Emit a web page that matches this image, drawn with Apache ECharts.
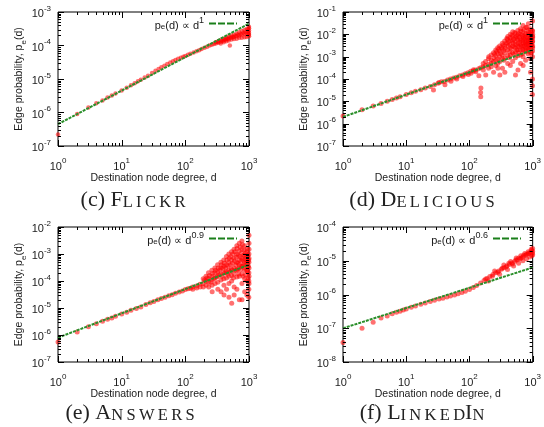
<!DOCTYPE html>
<html>
<head>
<meta charset="utf-8">
<script src="https://cdn.jsdelivr.net/npm/echarts@6/dist/echarts.min.js"></script>
<style>
  html, body { margin: 0; padding: 0; background: #fff; }
  #chart { width: 544px; height: 427px; }
</style>
</head>
<body>
<div id="chart"></div>
<script>
// degree (x) is shared by all four panels
const degreeTicks = [1, 10, 100, 1000];

// (c) Flickr: [degree, edge probability]
const flickrPoints = [
  [1, 2.2e-7], [2, 9e-7], [3, 1.4e-6], [4, 1.9e-6], [5, 2.3e-6], [6, 2.8e-6], [7, 3.2e-6], [8, 3.7e-6],
  [10, 4.5e-6], [12, 5.5e-6], [14, 6.5e-6], [16, 7.5e-6], [18, 8.5e-6], [20, 9.5e-6], [23, 1.1e-5],
  [26, 1.25e-5], [30, 1.5e-5], [34, 1.75e-5], [38, 2e-5], [42, 2.25e-5], [47, 2.5e-5], [52, 2.8e-5],
  [58, 3.1e-5], [64, 3.4e-5], [70, 3.7e-5], [77, 4e-5], [85, 4.3e-5], [93, 4.6e-5], [100, 4.9e-5],
  [110, 5.3e-5], [120, 5.7e-5], [135, 6.2e-5], [150, 6.7e-5], [165, 7.2e-5], [180, 7.8e-5],
  [200, 8.5e-5], [220, 9.2e-5], [240, 1e-4], [260, 1.05e-4], [280, 1.1e-4],
  [300, 1.15e-4], [300, 1.25e-4], [330, 1.2e-4], [330, 1.35e-4], [360, 1.3e-4], [360, 1.45e-4], [360, 1.15e-4],
  [400, 1.4e-4], [400, 1.6e-4], [400, 1.25e-4], [440, 1.5e-4], [440, 1.7e-4], [440, 1.35e-4],
  [480, 1.6e-4], [480, 1.85e-4], [480, 1.4e-4], [500, 1e-4], [530, 1.7e-4], [530, 2e-4], [530, 1.5e-4],
  [580, 1.8e-4], [580, 2.1e-4], [580, 1.55e-4], [640, 1.9e-4], [640, 2.3e-4], [640, 1.6e-4],
  [700, 2e-4], [700, 2.5e-4], [700, 1.7e-4], [770, 2.1e-4], [770, 2.7e-4], [770, 1.7e-4],
  [850, 2.2e-4], [850, 2.9e-4], [850, 1.75e-4], [920, 2.3e-4], [920, 3.1e-4], [920, 1.8e-4],
  [1000, 2.4e-4], [1000, 3.3e-4], [1000, 1.9e-4], [1000, 2.8e-4],
  [320, 1.28e-4], [380, 1.38e-4], [420, 1.5e-4], [460, 1.6e-4], [510, 1.75e-4], [560, 1.8e-4],
  [610, 1.95e-4], [670, 2.1e-4], [740, 2.2e-4], [810, 2.4e-4], [880, 2.5e-4], [960, 2.6e-4],
  [980, 2.2e-4], [960, 3e-4], [1000, 3.6e-4], [1000, 2.1e-4]
];
const flickrFit = [[1, 4.5e-7], [1000, 4.5e-4]];

// (d) Delicious
const deliciousPoints = [
  [1, 2.2e-6], [2, 4.2e-6], [3, 6.2e-6], [4, 8e-6], [5, 1e-5], [6, 1.2e-5], [7, 1.4e-5], [8, 1.6e-5],
  [10, 2e-5], [12, 2.4e-5], [14, 2.8e-5], [17, 3.3e-5], [20, 4e-5], [24, 4.6e-5], [27, 3.2e-5],
  [28, 5.5e-5], [32, 6.5e-5], [33, 7e-5], [36, 7.5e-5], [40, 7.8e-5], [41, 5.5e-5], [45, 9e-5],
  [50, 1e-4], [51, 8e-5], [56, 1.1e-4], [62, 1.2e-4], [63, 1e-4], [70, 1.4e-4], [78, 1.5e-4], [79, 1.3e-4],
  [86, 1.7e-4], [95, 1.9e-4], [96, 1.6e-4], [105, 2.2e-4], [106, 1.8e-4], [115, 2.3e-4], [116, 2.6e-4],
  [125, 2.5e-4], [126, 2.1e-4], [140, 2.9e-4], [141, 1.4e-4],
  [150, 3.2e-4], [150, 2.5e-5], [151, 1.6e-5], [152, 4e-5],
  [165, 3.5e-4], [165, 5e-4], [166, 2.5e-4], [180, 4e-4], [180, 6e-4], [181, 1.5e-4],
  [200, 4.5e-4], [200, 8e-4], [201, 3e-4], [202, 1e-3], [220, 5e-4], [220, 1.2e-3], [221, 3.5e-4], [222, 7e-4],
  [240, 6e-4], [240, 1.5e-3], [241, 2e-4], [242, 9e-4], [260, 1.1e-3], [260, 2e-3], [261, 4e-4], [262, 7e-4],
  [280, 8e-4], [280, 2.5e-3], [281, 1.4e-3], [282, 3e-4],
  [300, 1e-3], [300, 3e-3], [301, 1.8e-3], [302, 6e-4], [303, 1.5e-4],
  [330, 1.2e-3], [330, 2.2e-3], [331, 4e-3], [332, 8e-4], [333, 3e-4],
  [360, 1.5e-3], [360, 3e-3], [361, 5e-3], [362, 9e-4], [363, 2e-4],
  [400, 2e-3], [400, 4e-3], [401, 6e-3], [402, 1.1e-3], [403, 5e-4], [404, 8e-3],
  [440, 2.5e-3], [440, 3.5e-3], [441, 7e-3], [442, 1.2e-3], [443, 1e-2], [444, 4e-4],
  [480, 3e-3], [480, 5e-3], [481, 1.5e-3], [482, 8e-3], [483, 6e-4], [484, 1.3e-2],
  [530, 2.5e-3], [530, 4.5e-3], [531, 7e-3], [532, 1.1e-2], [533, 1.6e-3], [534, 9e-4], [535, 1.5e-4],
  [580, 3e-3], [580, 5.5e-3], [581, 9e-3], [582, 1.5e-2], [583, 2e-3], [584, 1.1e-3], [585, 2.5e-4],
  [640, 3.5e-3], [640, 6e-3], [641, 1e-2], [642, 2e-3], [643, 1.8e-2], [644, 1.2e-3], [645, 5e-4],
  [700, 3e-3], [700, 5e-3], [701, 8e-3], [702, 1.3e-2], [703, 2e-3], [704, 2.5e-2], [705, 1e-3], [706, 4e-4],
  [770, 4e-3], [770, 6.5e-3], [771, 1.1e-2], [772, 2.5e-3], [773, 1.6e-3], [774, 2e-2], [775, 7e-4],
  [850, 3.5e-3], [850, 5.5e-3], [851, 9e-3], [852, 1.5e-2], [853, 2.2e-3], [854, 1.3e-3], [855, 3e-2],
  [920, 4e-3], [920, 7e-3], [921, 1.2e-2], [922, 2.5e-3], [923, 1.5e-3], [924, 8e-4], [925, 2e-4],
  [1000, 3e-3], [1000, 5e-3], [999, 8e-3], [998, 1.4e-2], [997, 4e-2], [996, 1.8e-3], [995, 1e-3],
  [994, 1e-4], [993, 5e-5], [992, 2e-5],
  [250, 1.3e-3], [270, 1.7e-3], [290, 2.2e-3], [310, 1.4e-3], [320, 2.6e-3], [340, 3.3e-3], [350, 1.9e-3],
  [370, 2.4e-3], [380, 4e-3], [390, 6.5e-3], [410, 3e-3], [420, 4.8e-3], [430, 1.6e-3], [450, 5.5e-3],
  [460, 2.2e-3], [470, 9e-3], [490, 4e-3], [500, 6e-3], [510, 2.8e-3], [520, 1.2e-2], [540, 3.5e-3],
  [550, 8e-3], [560, 2e-3], [570, 6.5e-3], [590, 4e-3], [600, 1.1e-2], [610, 2.8e-3], [620, 7.5e-3],
  [630, 4.5e-3], [650, 1.4e-2], [660, 3e-3], [670, 5.5e-3], [680, 9e-3], [690, 2.2e-3], [710, 4e-3],
  [720, 6.5e-3], [730, 1.6e-2], [740, 3e-3], [750, 8e-3], [760, 4.5e-3], [780, 1e-2], [790, 3.5e-3],
  [800, 5.5e-3], [810, 2e-2], [820, 2.5e-3], [830, 7e-3], [840, 4e-3], [860, 1.2e-2], [870, 6e-3],
  [880, 3e-3], [890, 9e-3], [900, 4.5e-3], [910, 1.8e-2], [930, 5.5e-3], [940, 2.8e-3], [950, 1e-2],
  [960, 6.5e-3], [970, 3.5e-3], [980, 1.5e-2], [990, 4.5e-3], [1000, 2.5e-3], [1000, 7e-3], [1000, 1e-2],
  [950, 1.5e-3], [870, 1.8e-3], [780, 2e-3], [690, 1.4e-3], [600, 1.5e-3], [500, 1.3e-3], [430, 9e-4],
  [350, 7e-4], [280, 5e-4]
];
const deliciousFit = [[1, 2e-6], [1000, 2e-3]];

// (e) Answers
const answersPoints = [
  [1, 5.5e-7], [2, 1.3e-6], [3, 2e-6], [4, 2.6e-6], [5, 3.2e-6], [6, 3.8e-6], [7, 4.3e-6], [8, 4.9e-6],
  [10, 6e-6], [12, 7e-6], [14, 8.2e-6], [17, 9.6e-6], [20, 1.1e-5], [24, 1.35e-5], [28, 1.55e-5],
  [32, 1.75e-5], [37, 2e-5], [42, 2.25e-5], [48, 2.5e-5], [55, 2.85e-5], [62, 3.1e-5], [70, 3.5e-5],
  [80, 3.9e-5], [90, 4.3e-5], [100, 4.8e-5], [110, 5.2e-5], [120, 5.4e-5],
  [130, 6e-5], [131, 5e-5], [150, 6.5e-5], [151, 5.5e-5], [170, 7.5e-5], [171, 6e-5],
  [190, 8e-5], [191, 1.2e-4], [192, 6e-5], [210, 1e-4], [211, 1.5e-4], [212, 7e-5],
  [230, 9e-5], [231, 2e-4], [232, 1.2e-4], [233, 6e-5],
  [260, 1.1e-4], [261, 2.5e-4], [262, 1.5e-4], [263, 7e-5], [264, 4e-5],
  [290, 1.3e-4], [291, 3e-4], [292, 2e-4], [293, 8e-5],
  [320, 1.5e-4], [321, 4e-4], [322, 2.2e-4], [323, 9e-5], [324, 5e-5],
  [360, 1.8e-4], [361, 3e-4], [362, 5e-4], [363, 1.1e-4], [364, 4e-5],
  [400, 2e-4], [401, 6e-4], [402, 3.5e-4], [403, 1.2e-4], [404, 7e-5], [405, 3e-5],
  [440, 2.2e-4], [441, 4e-4], [442, 8e-4], [443, 1.3e-4], [444, 5e-5],
  [480, 2.5e-4], [481, 5e-4], [482, 1e-3], [483, 1.5e-4], [484, 8e-5], [485, 2.5e-5],
  [530, 2.8e-4], [531, 6e-4], [532, 1.2e-3], [533, 1.6e-4], [534, 1e-4], [535, 1.5e-5],
  [580, 3e-4], [581, 7e-4], [582, 1.5e-3], [583, 1.8e-4], [584, 6e-5], [585, 3e-5],
  [640, 2.5e-4], [641, 5e-4], [642, 1e-3], [643, 2e-3], [644, 1.4e-4], [645, 5e-5],
  [700, 3e-4], [701, 6e-4], [702, 1.3e-3], [703, 2.5e-3], [704, 1.5e-4], [705, 2e-5],
  [770, 3.5e-4], [771, 7e-4], [772, 1.5e-3], [773, 3e-3], [774, 1.8e-4], [775, 8e-5], [776, 2e-5],
  [850, 3e-4], [851, 5e-4], [852, 9e-4], [853, 2e-3], [854, 1.2e-4], [855, 4e-5],
  [920, 3.5e-4], [921, 6e-4], [922, 1.2e-3], [923, 2.5e-4], [924, 1e-4], [925, 3e-5],
  [1000, 3e-4], [999, 5e-3], [998, 1e-3], [997, 5e-4], [996, 2e-4], [995, 1e-4], [994, 5e-5], [993, 2.5e-5],
  [200, 1.1e-4], [220, 1.3e-4], [240, 1.6e-4], [250, 9e-5], [270, 1.9e-4], [280, 1.2e-4], [300, 2.5e-4],
  [310, 1.4e-4], [330, 3e-4], [340, 1.7e-4], [350, 2.6e-4], [370, 4e-4], [380, 1.5e-4], [390, 2.9e-4],
  [410, 4.5e-4], [420, 2e-4], [430, 3e-4], [450, 6e-4], [460, 1.8e-4], [470, 3.6e-4], [490, 7e-4],
  [500, 2.2e-4], [510, 4e-4], [520, 8e-4], [540, 2.5e-4], [550, 4.5e-4], [560, 1e-3], [570, 1.3e-4],
  [590, 5.5e-4], [600, 1.2e-3], [610, 2.5e-4], [620, 3.8e-4], [630, 7.5e-4], [650, 1.6e-3], [660, 2.8e-4],
  [670, 4.5e-4], [680, 9e-4], [690, 1.8e-4], [710, 4e-4], [720, 8e-4], [730, 1.8e-3], [740, 2.6e-4],
  [750, 5.5e-4], [760, 1.1e-3], [780, 3.5e-4], [790, 2.2e-3], [800, 6e-4], [810, 1.5e-4], [820, 9e-4],
  [830, 4e-4], [840, 1.4e-3], [860, 2.5e-4], [870, 6.5e-4], [880, 1.1e-3], [890, 1.7e-4], [900, 4.5e-4],
  [910, 7.5e-4], [930, 1.6e-3], [940, 2.2e-4], [950, 5e-4], [960, 9e-4], [970, 1.3e-4], [980, 3.5e-4],
  [990, 6e-4], [1000, 7e-4], [1000, 1.5e-3], [1000, 2.5e-3], [1000, 1.5e-4], [1000, 8e-5]
];
const answersFit = [[1, 8e-7], [1000, 4e-4]];

// (f) LinkedIn
const linkedinPoints = [
  [1, 3.8e-8], [2, 1e-7], [3, 1.5e-7], [4, 2e-7], [5, 2.3e-7], [6, 2.7e-7], [7, 3e-7], [8, 3.2e-7],
  [9, 3.5e-7], [10, 3.7e-7], [12, 4.2e-7], [14, 4.6e-7], [17, 5.1e-7], [20, 5.6e-7], [24, 6.2e-7],
  [28, 6.7e-7], [33, 7.3e-7], [38, 7.8e-7], [44, 8.4e-7], [50, 9e-7], [58, 9.7e-7], [66, 1.05e-6],
  [76, 1.15e-6], [86, 1.25e-6], [100, 1.4e-6], [115, 1.6e-6], [130, 1.85e-6], [150, 2.2e-6],
  [170, 2.6e-6], [190, 3e-6], [210, 3.4e-6], [235, 3.9e-6], [260, 4.4e-6], [290, 5e-6], [320, 5.6e-6],
  [350, 6.2e-6], [390, 7e-6], [430, 7.8e-6], [470, 8.6e-6], [520, 9.5e-6], [570, 1.05e-5],
  [630, 1.15e-5], [700, 1.3e-5], [770, 1.45e-5], [850, 1.6e-5], [930, 1.75e-5], [1000, 1.9e-5],
  [200, 2.5e-6], [300, 4e-6], [400, 5.5e-6], [500, 7e-6], [600, 8.5e-6], [700, 1e-5], [800, 1.15e-5],
  [900, 1.3e-5], [1000, 1.5e-5], [1000, 2.3e-5], [950, 2.2e-5],
  [250, 5e-6], [350, 7.5e-6], [450, 9.5e-6], [550, 1.2e-5], [650, 1.4e-5], [750, 1.65e-5], [850, 1.85e-5],
  [180, 2.9e-6], [230, 3.5e-6], [280, 4.6e-6], [330, 6e-6], [380, 6.5e-6], [420, 8.5e-6], [480, 8e-6],
  [540, 1.05e-5], [600, 1.2e-5], [660, 1.2e-5], [720, 1.45e-5], [800, 1.55e-5], [880, 1.7e-5],
  [960, 2e-5], [990, 1.7e-5], [970, 1.4e-5]
];
const linkedinFit = [[1, 1e-7], [1000, 6.3e-6]];

const panels = [
  { key: 'c', points: flickrPoints, fit: flickrFit, exponent: '1', yMin: 1e-7, yMax: 1e-3,
    grid: { left: 58, top: 12, width: 191, height: 134 }, legendRight: 307, legendTop: 16,
    caption: '{t|(c) }{b|F}{s|L\u2009I\u2009C\u2009K\u2009R}', captionX: 133, captionY: 200 },
  { key: 'd', points: deliciousPoints, fit: deliciousFit, exponent: '1', yMin: 1e-7, yMax: 1e-1,
    grid: { left: 343, top: 12, width: 192, height: 134 }, legendRight: 23, legendTop: 16,
    caption: '{t|(d) }{b|D}{s|E\u2009L\u2009I\u2009C\u2009I\u2009O\u2009U\u2009S}', captionX: 422, captionY: 200 },
  { key: 'e', points: answersPoints, fit: answersFit, exponent: '0.9', yMin: 1e-7, yMax: 1e-2,
    grid: { left: 58, top: 227, width: 191, height: 135 }, legendRight: 307, legendTop: 231,
    caption: '{t|(e) }{b|A}{s|N\u2009S\u2009W\u2009E\u2009R\u2009S}', captionX: 130, captionY: 413 },
  { key: 'f', points: linkedinPoints, fit: linkedinFit, exponent: '0.6', yMin: 1e-8, yMax: 1e-4,
    grid: { left: 343, top: 227, width: 192, height: 135 }, legendRight: 23, legendTop: 231,
    caption: '{t|(f) }{b|L}{s|I\u2009N\u2009K\u2009E\u2009D}{b|I}{s|N}', captionX: 422, captionY: 413 }
];

const sans = 'Liberation Sans, Arial, sans-serif';
const serif = 'Liberation Serif, Times New Roman, serif';
const textColor = '#1a1a1a';
const fitGreen = '#2a8f2a';

const powRich = {
  b: { fontSize: 11, lineHeight: 15, verticalAlign: 'bottom', color: textColor, fontFamily: sans },
  s: { fontSize: 8, lineHeight: 8, verticalAlign: 'top', color: textColor, fontFamily: sans }
};
const subRich = {
  t: { fontSize: 10.5, lineHeight: 14, verticalAlign: 'top', color: textColor, fontFamily: sans },
  sub: { fontSize: 8, lineHeight: 8, verticalAlign: 'bottom', color: textColor, fontFamily: sans },
  sup: { fontSize: 9, lineHeight: 9, verticalAlign: 'top', color: textColor, fontFamily: sans }
};
const legendRich = {
  t: { fontSize: 11, lineHeight: 15, verticalAlign: 'bottom', color: textColor, fontFamily: sans },
  sub: { fontSize: 8, lineHeight: 8, verticalAlign: 'bottom', color: textColor, fontFamily: sans },
  sup: { fontSize: 9, lineHeight: 9, verticalAlign: 'top', color: textColor, fontFamily: sans }
};

const powLabel = (v) => '{b|10}{s|' + Math.round(Math.log10(v)) + '}';

// inward major/minor log ticks on all four sides, placed through the axis scales
function tickRenderer(yMin, yMax) {
  return function (params, api) {
    const bl = api.coord([1, yMin]);
    const tr = api.coord([1000, yMax]);
    const children = [];
    const add = (x1, y1, x2, y2) => children.push({
      type: 'line', shape: { x1, y1, x2, y2 }, style: { stroke: '#000', lineWidth: 1 }
    });
    for (let k = 0; k <= 3; k++) {
      for (let m = 1; m <= 9; m++) {
        const v = m * Math.pow(10, k);
        if (v > 1000) break;
        const len = m === 1 ? 6 : 3;
        const x = Math.round(api.coord([v, yMin])[0]) + 0.5;
        add(x, bl[1], x, bl[1] - len);
        add(x, tr[1], x, tr[1] + len);
      }
    }
    const e0 = Math.round(Math.log10(yMin)), e1 = Math.round(Math.log10(yMax));
    for (let k = e0; k <= e1; k++) {
      for (let m = 1; m <= 9; m++) {
        const v = m * Math.pow(10, k);
        if (v > yMax * 1.0001) break;
        const len = m === 1 ? 6 : 3;
        const y = Math.round(api.coord([1, v])[1]) + 0.5;
        add(bl[0], y, bl[0] + len, y);
        add(tr[0], y, tr[0] - len, y);
      }
    }
    return { type: 'group', children };
  };
}

const grids = [], xAxes = [], yAxes = [], series = [], legends = [], graphics = [];

panels.forEach((p, i) => {
  grids.push(Object.assign({ show: true, borderColor: '#000', borderWidth: 1, backgroundColor: '#fff' }, p.grid));
  xAxes.push({
    type: 'log', gridIndex: i, min: degreeTicks[0], max: degreeTicks[degreeTicks.length - 1], splitNumber: 3,
    axisLine: { show: false }, axisTick: { show: false }, splitLine: { show: false },
    axisLabel: { formatter: powLabel, margin: 11, rich: powRich },
    name: 'Destination node degree, d', nameLocation: 'middle', nameGap: 24,
    nameTextStyle: { fontSize: 10.5, color: textColor, fontFamily: sans }
  });
  const decades = Math.round(Math.log10(p.yMax / p.yMin));
  yAxes.push({
    type: 'log', gridIndex: i, min: p.yMin, max: p.yMax, splitNumber: decades,
    axisLine: { show: false }, axisTick: { show: false }, splitLine: { show: false },
    axisLabel: { formatter: powLabel, margin: 7, rich: powRich },
    name: '{t|Edge probability, p}{sub|e}{t|(d)}', nameLocation: 'middle', nameGap: 28,
    nameTextStyle: { rich: subRich }
  });
  series.push({
    type: 'scatter', xAxisIndex: i, yAxisIndex: i, data: p.points,
    symbolSize: p.key === 'c' ? 4.5 : 5,
    itemStyle: { color: 'rgba(255,0,0,0.7)' }, z: 2
  });
  series.push({
    type: 'line', name: 'fit' + p.key, xAxisIndex: i, yAxisIndex: i, data: p.fit,
    symbol: 'none', lineStyle: { color: fitGreen, width: 2, type: [3, 1] }, z: 3
  });
  series.push({
    type: 'custom', xAxisIndex: i, yAxisIndex: i, data: [[1, p.yMin]], silent: true, z: 4,
    renderItem: tickRenderer(p.yMin, p.yMax)
  });
  legends.push({
    data: ['fit' + p.key], right: p.legendRight, top: p.legendTop, align: 'right', padding: 0,
    itemWidth: 28, itemHeight: 3, selectedMode: false,
    icon: 'path://M0,0h7v2h-7z M9,0h7v2h-7z M18,0h7v2h-7z M27,0h1v2h-1z',
    itemStyle: { color: '#1a7f1a' },
    formatter: () => '{t|p}{sub|e}{t|(d) \u221D d}{sup|' + p.exponent + '}',
    textStyle: { rich: legendRich }
  });
  graphics.push({
    type: 'text', x: p.captionX, y: p.captionY,
    style: {
      text: p.caption, align: 'center', verticalAlign: 'middle',
      rich: {
        t: { fontSize: 22, lineHeight: 22, verticalAlign: 'bottom', fontFamily: serif, fill: '#222' },
        b: { fontSize: 22, lineHeight: 22, verticalAlign: 'bottom', fontFamily: serif, fill: '#222' },
        s: { fontSize: 16.5, lineHeight: 16.5, verticalAlign: 'bottom', fontFamily: serif, fill: '#222' }
      }
    }
  });
});

const chart = echarts.init(document.getElementById('chart'));
chart.setOption({
  animation: false,
  backgroundColor: '#fff',
  grid: grids,
  xAxis: xAxes,
  yAxis: yAxes,
  legend: legends,
  series: series,
  graphic: graphics
});
</script>
</body>
</html>
